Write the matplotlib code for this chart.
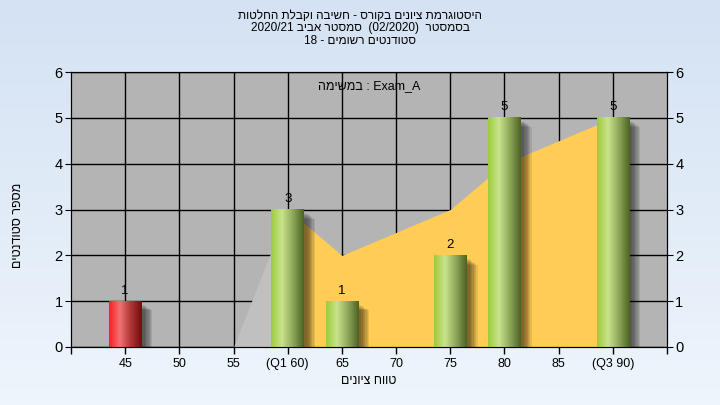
import numpy as np
import matplotlib.pyplot as plt
from matplotlib.colors import LinearSegmentedColormap
from matplotlib.patches import Rectangle

plt.rcParams['font.family'] = ['Liberation Sans', 'DejaVu Sans']

# נתונים
grades = [45, 60, 65, 75, 80, 90]
counts = [1, 3, 1, 2, 5, 5]
failed = [True, False, False, False, False, False]
tick_vals = [45, 50, 55, 60, 65, 70, 75, 80, 85, 90]
tick_labels = ['45', '50', '55', '(Q1 60)', '65', '70', '75', '80', '85', '(Q3 90)']
low_x = [45, 50, 55, 60]
low_y = [0, 0, 0, 3]
mid_x = [60, 65, 70, 75, 80, 85, 90]
mid_y = [3, 2, 2.5, 3, 4, 4.5, 5]

title_lines = ['היסטוגרמת ציונים בקורס - חשיבה וקבלת החלטות',
               'בסמסטר  (02/2020)  סמסטר אביב 2020/21',
               'סטודנטים רשומים - 18']
exam_note = 'Exam_A : במשימה'
xlabel = 'טווח ציונים'
ylabel = 'מספר סטודנטים'


def rtl(s):
    # matplotlib has no bidi, flip hebrew words by hand
    out = []
    for w in s.split(' ')[::-1]:
        out.append(w[::-1] if any('\u0590' <= c <= '\u05ff' for c in w) else w)
    return ' '.join(out)


green = LinearSegmentedColormap.from_list('g', ['#9ccb3c', '#c9e38c', '#8fa65a', '#4a6222'])
red = LinearSegmentedColormap.from_list('r', ['#ff1c1c', '#f07272', '#b03434', '#6e0e0e'])

fig = plt.figure(figsize=(7.2, 4.05), dpi=100)

# background gradient
bg = fig.add_axes([0, 0, 1, 1], zorder=-10)
bg.imshow(np.linspace(0, 1, 100).reshape(-1, 1), aspect='auto', extent=[0, 1, 0, 1],
          cmap=LinearSegmentedColormap.from_list('bg', ['#d4e2f3', '#eef5fc']))
bg.axis('off')

ax = fig.add_axes([71 / 720, 58 / 405, 596 / 720, 275 / 405])
ax.set_facecolor('#b4b4b4')
ax.set_xlim(40, 95)
ax.set_ylim(0, 6)
ax.set_axisbelow(True)
ax.grid(True, color='black', linewidth=1)

ax.fill_between(low_x, low_y, color='#c0c0c0', zorder=1.5, linewidth=0)
ax.fill_between(mid_x, mid_y, color='#ffcc55', zorder=1.6, linewidth=0)

w = 3.0
grad = np.linspace(0, 1, 256).reshape(1, -1)
for g, c, f in zip(grades, counts, failed):
    # shadow
    for k in range(7):
        ax.add_patch(Rectangle((g - w / 2 + 0.3 + k * 0.12, 0), w, c - 0.08 - k * 0.02,
                               color='black', alpha=0.09, linewidth=0, zorder=2))
    ax.imshow(grad, aspect='auto', extent=[g - w / 2, g + w / 2, 0, c],
              cmap=red if f else green, zorder=3, interpolation='bilinear')
    ax.text(g, c + 0.1, str(c), ha='center', va='bottom', fontsize=9.5, zorder=4)
ax.set_xlim(40, 95)
ax.set_ylim(0, 6)

ax.set_xticks(tick_vals)
ax.set_xticklabels(tick_labels, fontsize=9)
ax.set_xticks([40, 95], minor=True)
ax.tick_params(axis='x', which='both', length=5, width=1, pad=3)
ax.set_yticks(range(7))
ax.tick_params(axis='y', labelsize=10.5, length=4, pad=2)

ax2 = ax.twinx()
ax2.set_ylim(0, 6)
ax2.set_yticks(range(7))
ax2.tick_params(axis='y', labelsize=10.5, length=4, pad=2)

ax.text(0.5, 0.95, rtl(exam_note), transform=ax.transAxes, ha='center', va='center', fontsize=9)

fig.text(0.5, 1 - 10 / 405, '\n'.join(rtl(t) for t in title_lines),
         ha='center', va='top', fontsize=8.5, linespacing=1.05)
fig.text(369 / 720, 1 - 381 / 405, rtl(xlabel), ha='center', va='center', fontsize=9)
fig.text(18 / 720, 1 - 225 / 405, rtl(ylabel), ha='center', va='center', fontsize=9, rotation=90)

fig.savefig('out.png', dpi=100)
